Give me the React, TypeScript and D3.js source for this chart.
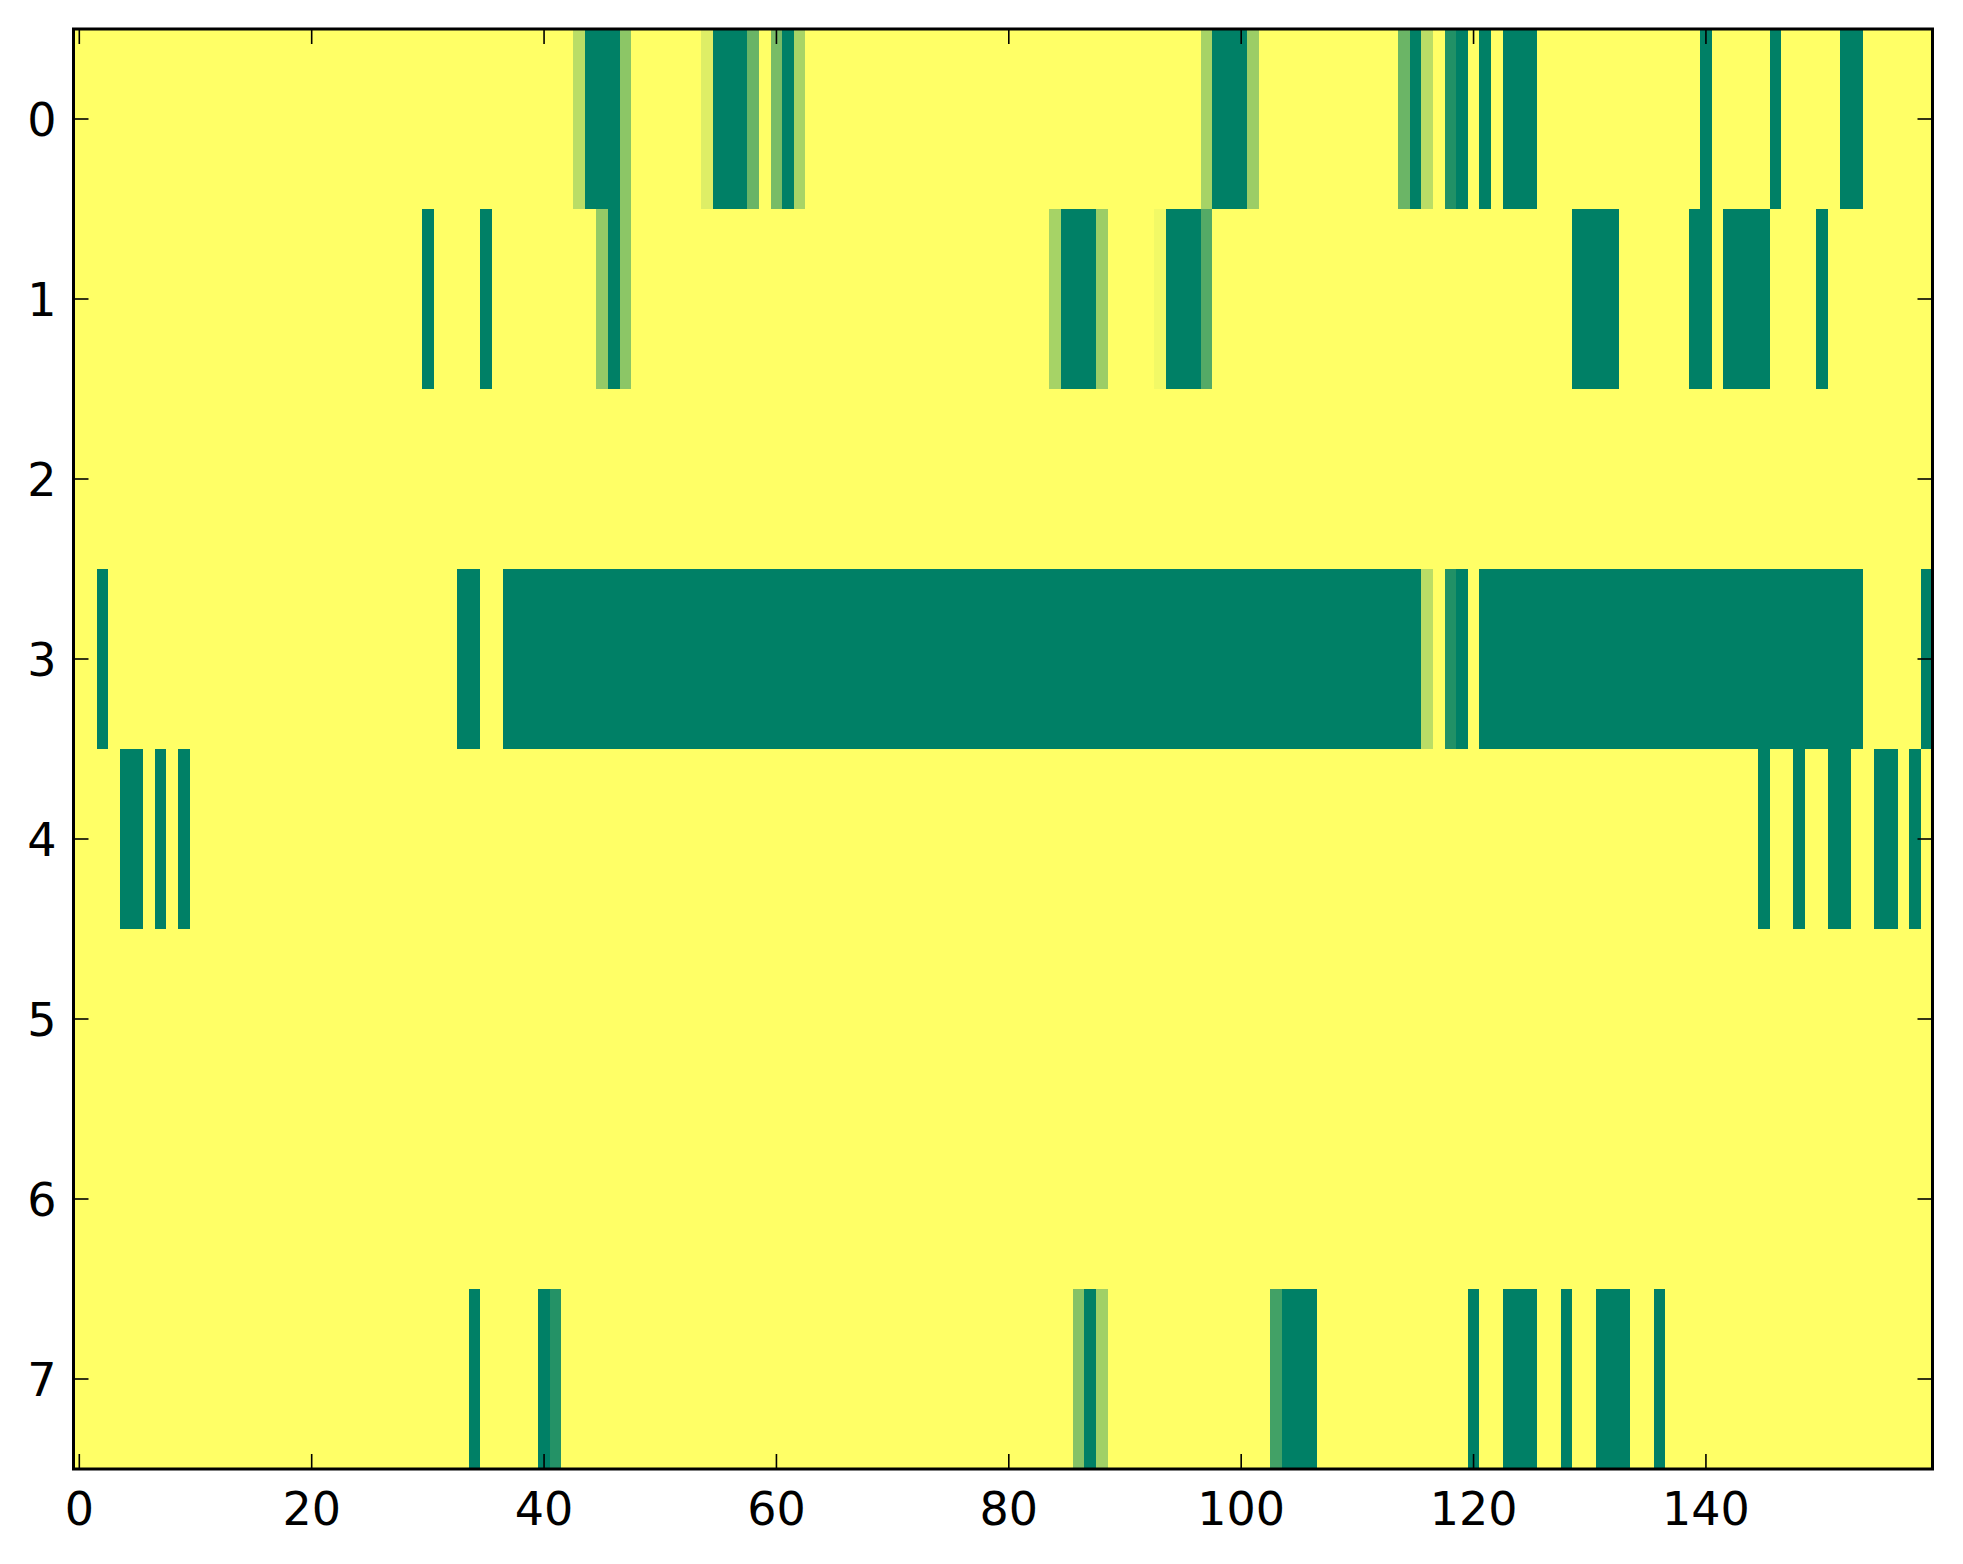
import React, { useEffect, useRef } from 'react';
import * as d3 from 'd3';

// image size 160 columns x 8 rows, values 0..1 drawn with the "summer" colormap
const nCols = 160;
const rowLabels = [0, 1, 2, 3, 4, 5, 6, 7];
const xTickValues = [0, 20, 40, 60, 80, 100, 120, 140];

// runs of non-yellow cells per row: [firstCol, lastCol, value]; every other cell is 1
const row0: Array<[number, number, number]> = [
  [43, 43, 0.73], [44, 46, 0], [47, 47, 0.55], [54, 54, 0.87], [55, 57, 0], [58, 58, 0.41],
  [60, 60, 0.47], [61, 61, 0], [62, 62, 0.66], [97, 97, 0.65], [98, 100, 0], [101, 101, 0.61],
  [114, 114, 0.42], [115, 115, 0], [116, 116, 0.73], [118, 118, 0.13], [119, 119, 0],
  [121, 121, 0], [123, 125, 0], [140, 140, 0], [146, 146, 0], [152, 153, 0],
];
const row1: Array<[number, number, number]> = [
  [30, 30, 0], [35, 35, 0], [45, 45, 0.58], [46, 46, 0], [47, 47, 0.55], [84, 84, 0.65],
  [85, 87, 0], [88, 88, 0.61], [93, 93, 0.95], [94, 96, 0], [97, 97, 0.33], [129, 132, 0],
  [139, 140, 0], [142, 145, 0], [150, 150, 0],
];
const row2: Array<[number, number, number]> = [];
const row3: Array<[number, number, number]> = [
  [2, 2, 0], [33, 34, 0], [37, 115, 0], [116, 116, 0.73], [118, 118, 0.13], [119, 119, 0],
  [121, 153, 0], [159, 159, 0],
];
const row4: Array<[number, number, number]> = [
  [4, 5, 0], [7, 7, 0], [9, 9, 0], [145, 145, 0], [148, 148, 0], [151, 152, 0],
  [155, 156, 0], [158, 158, 0],
];
const row5: Array<[number, number, number]> = [];
const row6: Array<[number, number, number]> = [];
const row7: Array<[number, number, number]> = [
  [34, 34, 0], [40, 40, 0], [41, 41, 0.14], [86, 86, 0.52], [87, 87, 0], [88, 88, 0.63],
  [103, 103, 0.26], [104, 106, 0], [120, 120, 0], [123, 125, 0], [128, 128, 0],
  [131, 133, 0], [136, 136, 0],
];
const rowRuns = [row0, row1, row2, row3, row4, row5, row6, row7];

const App: React.FC = () => {
  const ref = useRef<SVGSVGElement | null>(null);

  useEffect(() => {
    const width = 1963;
    const height = 1564;
    const left = 73.5;
    const right = 1932.5;
    const top = 29;
    const bottom = 1469;
    const font = '"DejaVu Sans", sans-serif';
    const fontSize = 46;
    const tickLen = 15;

    const svg = d3.select(ref.current)
      .attr('width', width)
      .attr('height', height);
    svg.selectAll('*').remove();

    const x = d3.scaleLinear().domain([-0.5, nCols - 0.5]).range([left, right]);
    const y = d3.scaleLinear().domain([-0.5, rowLabels.length - 0.5]).range([top, bottom]);
    // summer: linear from (0, .5, .4) to (1, 1, .4)
    const color = d3.scaleLinear<string>().domain([0, 1]).range(['#008066', '#ffff66']);

    // build the cell list from the runs
    const cells: Array<{ r: number; c: number; v: number }> = [];
    rowRuns.forEach((runs, r) => {
      const vals: number[] = new Array(nCols).fill(1);
      runs.forEach(([a, b, v]) => {
        for (let c = a; c <= b; c++) vals[c] = v;
      });
      vals.forEach((v, c) => cells.push({ r, c, v }));
    });

    svg.append('g')
      .attr('shape-rendering', 'crispEdges')
      .selectAll('rect')
      .data(cells)
      .enter()
      .append('rect')
      .attr('x', d => x(d.c - 0.5))
      .attr('y', d => y(d.r - 0.5))
      .attr('width', d => x(d.c + 0.5) - x(d.c - 0.5) + 0.6)
      .attr('height', d => y(d.r + 0.5) - y(d.r - 0.5) + 0.6)
      .attr('fill', d => color(d.v));

    // ticks on all four sides, pointing inwards
    const ticks = svg.append('g').attr('stroke', '#000').attr('stroke-width', 1.6);
    xTickValues.forEach(t => {
      ticks.append('line').attr('x1', x(t)).attr('x2', x(t)).attr('y1', bottom).attr('y2', bottom - tickLen);
      ticks.append('line').attr('x1', x(t)).attr('x2', x(t)).attr('y1', top).attr('y2', top + tickLen);
    });
    rowLabels.forEach(t => {
      ticks.append('line').attr('x1', left).attr('x2', left + tickLen).attr('y1', y(t)).attr('y2', y(t));
      ticks.append('line').attr('x1', right).attr('x2', right - tickLen).attr('y1', y(t)).attr('y2', y(t));
    });

    // frame
    svg.append('rect')
      .attr('x', left)
      .attr('y', top)
      .attr('width', right - left)
      .attr('height', bottom - top)
      .attr('fill', 'none')
      .attr('stroke', '#000')
      .attr('stroke-width', 3);

    // tick labels
    svg.append('g')
      .selectAll('text')
      .data(xTickValues)
      .enter()
      .append('text')
      .attr('x', d => x(d))
      .attr('y', bottom + 56)
      .attr('text-anchor', 'middle')
      .attr('font-family', font)
      .attr('font-size', fontSize)
      .attr('fill', '#000')
      .text(d => String(d));

    svg.append('g')
      .selectAll('text')
      .data(rowLabels)
      .enter()
      .append('text')
      .attr('x', left - 17)
      .attr('y', d => y(d) + 16.5)
      .attr('text-anchor', 'end')
      .attr('font-family', font)
      .attr('font-size', fontSize)
      .attr('fill', '#000')
      .text(d => String(d));
  }, []);

  return (
    <svg ref={ref} style={{ position: 'absolute', left: 0, top: 0, background: '#fff' }} />
  );
};

export default App;
